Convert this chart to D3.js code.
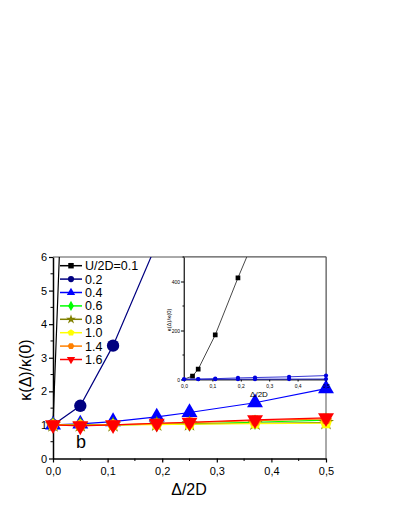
<!DOCTYPE html>
<html>
<head>
<meta charset="utf-8">
<script src="https://cdn.jsdelivr.net/npm/d3@7"></script>
<style>
  body { margin: 0; background: #fff; }
  text { font-family: "Liberation Sans", Arial, sans-serif; }
</style>
</head>
<body>
<div id="chart"></div>
<script>
// x positions (Δ/2D)
const xBlack = [0, 0.03, 0.05, 0.11, 0.19, 0.25];
const xCommon = [0, 0.05, 0.11, 0.19, 0.25, 0.37, 0.5];

// κ(Δ)/κ(0) per U/2D
const labels = ["U/2D=0.1", "0.2", "0.4", "0.6", "0.8", "1.0", "1.4", "1.6"];
const u01 = [1, 14, 42, 182, 415, 580];
const u02 = [1, 1.57, 3.36, 6.4, 8, 11, 16];
const u04 = [1, 1.03, 1.1, 1.24, 1.37, 1.66, 2.08];
const u06 = [1, 1.0, 1.0, 1.02, 1.03, 1.08, 1.14];
const u08 = [1, 1.0, 1.0, 1.02, 1.03, 1.05, 1.07];
const u10 = [1, 0.99, 1.0, 1.01, 1.02, 1.04, 1.05];
const u14 = [1, 0.98, 1.0, 1.04, 1.07, 1.13, 1.18];
const u16 = [1, 0.97, 1.0, 1.05, 1.08, 1.15, 1.21];

const colors = ["#000000", "#000080", "#0000ff", "#00ff00", "#808000", "#ffff00", "#ff8000", "#ff0000"];

const xTicks = [0, 0.1, 0.2, 0.3, 0.4, 0.5];
const yTicks = [0, 1, 2, 3, 4, 5, 6];
const insetYTicks = [0, 200, 400];

const polygon = (n, rot) => ({
  draw(ctx, size) {
    const r = Math.sqrt(size / (n / 2 * Math.sin(2 * Math.PI / n)));
    for (let i = 0; i < n; i++) {
      const a = rot + i * 2 * Math.PI / n;
      const px = r * Math.sin(a), py = -r * Math.cos(a);
      if (i === 0) ctx.moveTo(px, py); else ctx.lineTo(px, py);
    }
    ctx.closePath();
  }
});
const triDown = {
  draw(ctx, size) {
    const s = Math.sqrt(size / 0.433);
    const h = s * 0.866;
    ctx.moveTo(-s / 2, -h / 3);
    ctx.lineTo(s / 2, -h / 3);
    ctx.lineTo(0, 2 * h / 3);
    ctx.closePath();
  }
};
const shapes = [d3.symbolSquare, d3.symbolCircle, d3.symbolTriangle, d3.symbolDiamond,
                d3.symbolStar, polygon(5, 0), polygon(6, Math.PI / 6), triDown];
const mainSizes = [70, 120, 110, 70, 80, 90, 90, 110];

const series = labels.map((l, i) => ({
  label: l,
  color: colors[i],
  shape: shapes[i],
  size: mainSizes[i],
  values: [u01, u02, u04, u06, u08, u10, u14, u16][i].map((v, j) => ({ x: (i === 0 ? xBlack : xCommon)[j], y: v }))
}));

const W = 399, H = 516;
const svg = d3.select("#chart").append("svg").attr("width", W).attr("height", H);

const L = 53, R = 326, T = 257, B = 458.5;
const x = d3.scaleLinear().domain([0, 0.5]).range([L, R]);
const y = d3.scaleLinear().domain([0, 6]).range([B, T]);

svg.append("defs").append("clipPath").attr("id", "clipMain")
  .append("rect").attr("x", L - 20).attr("y", T).attr("width", R - L + 40).attr("height", B - T + 20);

// frame top/right
svg.append("line").attr("x1", L).attr("x2", R).attr("y1", T).attr("y2", T).attr("stroke", "#555").attr("stroke-width", 1);
svg.append("line").attr("x1", R).attr("x2", R).attr("y1", T).attr("y2", B).attr("stroke", "#555").attr("stroke-width", 1);

// axes
const xAxis = d3.axisBottom(x).tickValues(xTicks).tickSize(4).tickSizeOuter(0).tickFormat(d => d3.format(".1f")(d).replace(".", ","));
const gx = svg.append("g").attr("transform", `translate(0,${B})`).call(xAxis);
gx.selectAll(".tick text").attr("font-size", 11).attr("dy", "0.9em").attr("font-family", "Liberation Sans, Arial");
gx.select(".domain").attr("stroke-width", 1.5);
gx.selectAll(".tick line").attr("stroke-width", 1.2);
gx.selectAll(".minor").data(d3.range(0.05, 0.5, 0.1)).enter().append("line")
  .attr("x1", d => x(d)).attr("x2", d => x(d)).attr("y1", 0).attr("y2", 2.5).attr("stroke", "#000");

const yAxis = d3.axisLeft(y).tickValues(yTicks).tickSize(4).tickSizeOuter(0).tickFormat(d3.format("d"));
const gy = svg.append("g").attr("transform", `translate(${L},0)`).call(yAxis);
gy.selectAll(".tick text").attr("font-size", 11).attr("x", -6).attr("font-family", "Liberation Sans, Arial");
gy.select(".domain").attr("stroke-width", 1.5);
gy.selectAll(".tick line").attr("stroke-width", 1.2);
gy.selectAll(".minor").data(d3.range(0.5, 6, 1)).enter().append("line")
  .attr("y1", d => y(d)).attr("y2", d => y(d)).attr("x1", 0).attr("x2", -2.5).attr("stroke", "#000");

// titles
svg.append("text").attr("transform", `translate(31,370) rotate(-90)`).attr("text-anchor", "middle")
  .attr("font-size", 16).text("κ(Δ)/κ(0)");
svg.append("text").attr("x", 189).attr("y", 495).attr("text-anchor", "middle").attr("font-size", 16).text("Δ/2D");
svg.append("text").attr("x", 76).attr("y", 448).attr("font-size", 18).text("b");

// main series
const line = d3.line().x(d => x(d.x)).y(d => y(d.y));
const plot = svg.append("g").attr("clip-path", "url(#clipMain)");
series.forEach(s => {
  plot.append("path").datum(s.values).attr("d", line).attr("fill", "none")
    .attr("stroke", s.color).attr("stroke-width", 1.2);
  plot.selectAll(null).data(s.values.filter(d => d.y <= 6.5)).enter().append("path")
    .attr("transform", d => `translate(${x(d.x)},${y(d.y)})`)
    .attr("d", d3.symbol().type(s.shape).size(s.size)).attr("fill", s.color);
});

// inset
const iL = 184, iR = 326, iT = 257, iB = 379.5;
const ix = d3.scaleLinear().domain([0, 0.5]).range([iL, iR]);
const iy = d3.scaleLinear().domain([0, 500]).range([iB, iT]);
const inset = svg.append("g");
inset.append("rect").attr("x", iL).attr("y", iT).attr("width", iR - iL).attr("height", iB - iT)
  .attr("fill", "#fff").attr("stroke", "#555").attr("stroke-width", 1);
svg.append("defs").append("clipPath").attr("id", "clipInset")
  .append("rect").attr("x", iL - 5).attr("y", iT).attr("width", iR - iL + 10).attr("height", iB - iT + 5);

const ixAxis = d3.axisBottom(ix).tickValues(xTicks).tickSize(2).tickSizeOuter(0).tickFormat(d => d3.format(".1f")(d).replace(".", ","));
const igx = inset.append("g").attr("transform", `translate(0,${iB})`).call(ixAxis);
igx.selectAll(".tick text").attr("font-size", 5).attr("dy", "0.6em");
igx.select(".domain").attr("stroke", "#333");
const iyAxis = d3.axisLeft(iy).tickValues(insetYTicks).tickSize(3).tickSizeOuter(0);
const igy = inset.append("g").attr("transform", `translate(${iL},0)`).call(iyAxis);
igy.selectAll(".tick text").attr("font-size", 5).attr("x", -4);
igy.select(".domain").attr("stroke", "#333");
igy.selectAll(".minor").data([100, 300, 500]).enter().append("line")
  .attr("y1", d => iy(d)).attr("y2", d => iy(d)).attr("x1", 0).attr("x2", -1.5).attr("stroke", "#000");

inset.append("text").attr("transform", `translate(171,320) rotate(-90)`).attr("text-anchor", "middle")
  .attr("font-size", 6).text("κ(Δ)/κ(0)");
inset.append("text").attr("x", 259).attr("y", 397).attr("text-anchor", "middle").attr("font-size", 8).text("Δ/2D");

const iline = d3.line().x(d => ix(d.x)).y(d => iy(d.y));
const iplot = inset.append("g").attr("clip-path", "url(#clipInset)");
series.slice(0, 3).forEach((s, i) => {
  iplot.append("path").datum(s.values).attr("d", iline).attr("fill", "none")
    .attr("stroke", i === 0 ? "#333" : "#2020d0").attr("stroke-width", 0.9);
  iplot.selectAll(null).data(s.values.filter(d => d.y <= 500 && (i > 0 || d.x > 0))).enter().append("path")
    .attr("transform", d => `translate(${ix(d.x)},${iy(d.y)})`)
    .attr("d", d3.symbol().type(i === 0 ? d3.symbolSquare : d3.symbolCircle).size(i === 0 ? 22 : 14))
    .attr("fill", i === 0 ? "#000" : "#0000e0");
});

// legend
const lg = svg.append("g");
series.forEach((s, i) => {
  const ly = 265.7 + i * 13.4;
  lg.append("line").attr("x1", 60).attr("x2", 82).attr("y1", ly).attr("y2", ly)
    .attr("stroke", s.color).attr("stroke-width", 1.5);
  lg.append("path").attr("transform", `translate(71,${ly})`)
    .attr("d", d3.symbol().type(s.shape).size(30)).attr("fill", s.color);
  lg.append("text").attr("x", 85).attr("y", ly).attr("dy", "0.36em").attr("font-size", 12.5).text(s.label);
});
</script>
</body>
</html>
